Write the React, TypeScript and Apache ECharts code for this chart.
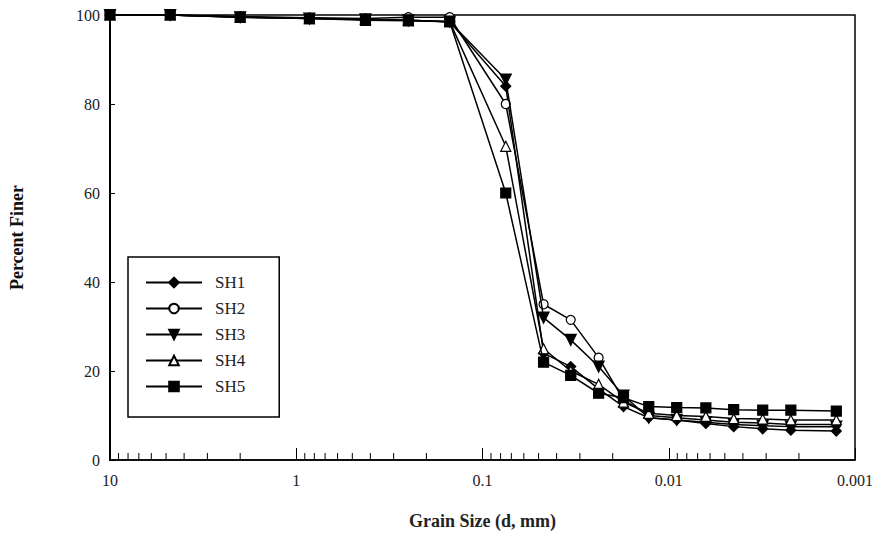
import React, { useEffect, useRef } from "react";
import * as echarts from "echarts";

// Grain sizes (mm): sieve sizes then hydrometer readings
const grainSize = [
  10, 4.75, 2.0, 0.85, 0.425, 0.25, 0.15, 0.075,
  0.047, 0.0336, 0.0238, 0.0175, 0.0128, 0.00906, 0.00632, 0.00448, 0.00313, 0.00221, 0.00126,
];

const sh1 = [100, 100, 99.6, 99.3, 99, 98.8, 98.5, 84, 24, 21, 16, 12, 9.5, 9, 8.2, 7.5, 7, 6.7, 6.5];
const sh2 = [100, 100, 99.6, 99.4, 99.2, 99.5, 99.5, 80, 35, 31.5, 23, 13.5, 10, 9.5, 9, 8.5, 8.3, 8, 8];
const sh3 = [100, 100, 99.5, 99.2, 99, 98.8, 98.5, 85.5, 32, 27, 21, 14.5, 9.5, 9, 8.5, 8, 7.7, 7.5, 7.5];
const sh4 = [100, 100, 99.5, 99.2, 99, 98.8, 98.5, 70.5, 25, 20, 17, 13, 10.5, 10, 9.8, 9.3, 9.2, 9, 9];
const sh5 = [100, 100, 99.5, 99.2, 98.8, 98.7, 98.5, 60, 22, 19, 15, 14, 12, 11.8, 11.7, 11.3, 11.2, 11.2, 11];

const seriesNames = ["SH1", "SH2", "SH3", "SH4", "SH5"];
const xTickValues = [10, 1, 0.1, 0.01, 0.001];
const xTickLabels = ["10", "1", "0.1", "0.01", "0.001"];
const minorTicks = [
  9, 8, 7, 6, 5, 4, 3, 2,
  0.9, 0.8, 0.7, 0.6, 0.5, 0.4, 0.3, 0.2,
  0.09, 0.08, 0.07, 0.06, 0.05, 0.04, 0.03, 0.02,
  0.009, 0.008, 0.007, 0.006, 0.005, 0.004, 0.003, 0.002,
];

const FONT = "Liberation Serif, Times New Roman, serif";

export default function App() {
  const ref = useRef<HTMLDivElement>(null);

  useEffect(() => {
    if (!ref.current) return;
    const chart = echarts.init(ref.current, undefined, { renderer: "svg" });

    const pair = (vals: number[]) => vals.map((v, i) => [grainSize[i], v]);
    const symbols = [
      { symbol: "diamond", size: 10, fill: "#000" },
      { symbol: "circle", size: 9, fill: "#fff" },
      { symbol: "path://M0,0 L10,0 L5,10 Z", size: 11, fill: "#000" },
      { symbol: "triangle", size: 10, fill: "#fff" },
      { symbol: "rect", size: 10, fill: "#000" },
    ];
    const datas = [sh1, sh2, sh3, sh4, sh5];

    const lineSeries = datas.map((d, i) => ({
      name: seriesNames[i],
      type: "line",
      data: pair(d),
      symbol: symbols[i].symbol,
      symbolSize: symbols[i].size,
      showAllSymbol: true,
      lineStyle: { color: "#000", width: 1.5 },
      itemStyle: { color: symbols[i].fill, borderColor: "#000", borderWidth: 1.2 },
      z: 3 + i,
    }));

    const option: any = {
      animation: false,
      backgroundColor: "#fff",
      grid: {
        left: 110,
        right: 29,
        top: 15,
        bottom: 81,
        show: true,
        borderColor: "#000",
        borderWidth: 1.5,
        containLabel: false,
      },
      legend: {
        data: seriesNames,
        orient: "vertical",
        left: 128,
        top: 257,
        backgroundColor: "#fff",
        borderColor: "#000",
        borderWidth: 1.5,
        padding: [17, 34, 22, 17],
        itemWidth: 56,
        itemHeight: 12,
        itemGap: 9,
        selectedMode: false,
        textStyle: { fontFamily: FONT, fontSize: 17, color: "#222", padding: [0, 0, 0, 8] },
      },
      xAxis: {
        type: "log",
        logBase: 10,
        min: 0.001,
        max: 10,
        inverse: true,
        name: "Grain Size (d, mm)",
        nameLocation: "middle",
        nameGap: 52,
        nameTextStyle: { fontFamily: FONT, fontSize: 18, fontWeight: "bold", color: "#222" },
        axisLine: { show: true, lineStyle: { color: "#000", width: 1.5 } },
        axisTick: { show: true, inside: true, length: 12, lineStyle: { color: "#000", width: 1 } },
        axisLabel: {
          fontFamily: FONT,
          fontSize: 16,
          color: "#222",
          margin: 12,
          formatter: (v: number) => {
            const idx = xTickValues.findIndex((t) => Math.abs(Math.log10(t) - Math.log10(v)) < 1e-6);
            return idx >= 0 ? xTickLabels[idx] : "";
          },
        },
        splitLine: { show: false },
      },
      yAxis: {
        type: "value",
        min: 0,
        max: 100,
        interval: 20,
        name: "Percent Finer",
        nameLocation: "middle",
        nameGap: 84,
        nameRotate: 90,
        nameTextStyle: { fontFamily: FONT, fontSize: 18, fontWeight: "bold", color: "#111" },
        axisLine: { show: true, lineStyle: { color: "#000", width: 2 } },
        axisTick: { show: true, inside: true, length: 5, lineStyle: { color: "#000" } },
        axisLabel: { fontFamily: FONT, fontSize: 16, color: "#222", margin: 10 },
        splitLine: { show: false },
      },
      series: [
        ...lineSeries,
        {
          name: "minorTicks",
          type: "custom",
          silent: true,
          z: 10,
          data: minorTicks.map((v) => [v, 0]),
          renderItem: (_params: any, api: any) => {
            const p = api.coord([api.value(0), 0]);
            return {
              type: "line",
              shape: { x1: p[0], y1: p[1], x2: p[0], y2: p[1] - 7 },
              style: { stroke: "#000", lineWidth: 1 },
            };
          },
        },
      ],
    };

    chart.setOption(option);
    return () => chart.dispose();
  }, []);

  return (
    <div
      ref={ref}
      style={{ position: "absolute", left: 0, top: 0, width: 884, height: 541 }}
    />
  );
}
